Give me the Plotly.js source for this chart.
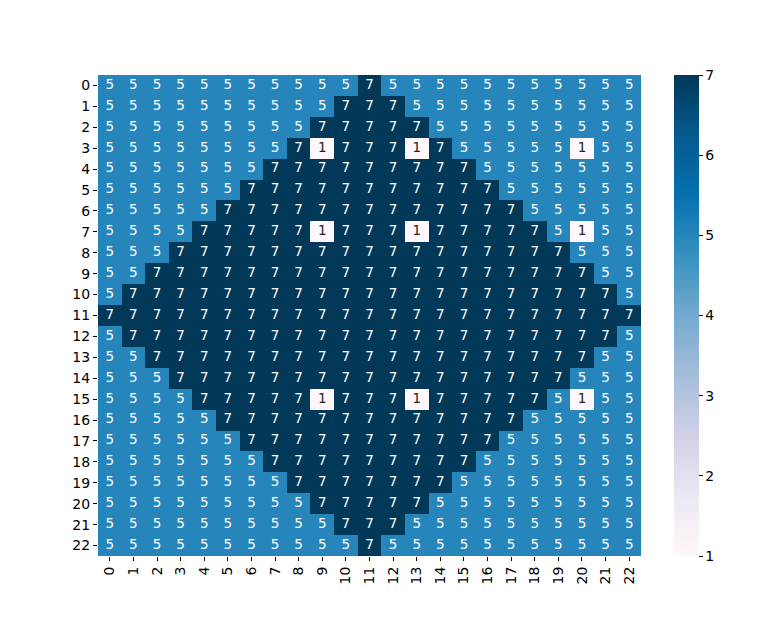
<!DOCTYPE html>
<html>
<head>
<meta charset="utf-8">
<script src="https://cdn.plot.ly/plotly-3.0.1.min.js"></script>
<style>html,body{margin:0;padding:0;background:#fff;}#chart{width:780px;height:625px;}</style>
</head>
<body>
<div id="chart"></div>
<script>
const rowLabels = ["0","1","2","3","4","5","6","7","8","9","10","11","12","13","14","15","16","17","18","19","20","21","22"];
const colLabels = ["0","1","2","3","4","5","6","7","8","9","10","11","12","13","14","15","16","17","18","19","20","21","22"];
const values = [
 [5,5,5,5,5,5,5,5,5,5,5,7,5,5,5,5,5,5,5,5,5,5,5],
 [5,5,5,5,5,5,5,5,5,5,7,7,7,5,5,5,5,5,5,5,5,5,5],
 [5,5,5,5,5,5,5,5,5,7,7,7,7,7,5,5,5,5,5,5,5,5,5],
 [5,5,5,5,5,5,5,5,7,1,7,7,7,1,7,5,5,5,5,5,1,5,5],
 [5,5,5,5,5,5,5,7,7,7,7,7,7,7,7,7,5,5,5,5,5,5,5],
 [5,5,5,5,5,5,7,7,7,7,7,7,7,7,7,7,7,5,5,5,5,5,5],
 [5,5,5,5,5,7,7,7,7,7,7,7,7,7,7,7,7,7,5,5,5,5,5],
 [5,5,5,5,7,7,7,7,7,1,7,7,7,1,7,7,7,7,7,5,1,5,5],
 [5,5,5,7,7,7,7,7,7,7,7,7,7,7,7,7,7,7,7,7,5,5,5],
 [5,5,7,7,7,7,7,7,7,7,7,7,7,7,7,7,7,7,7,7,7,5,5],
 [5,7,7,7,7,7,7,7,7,7,7,7,7,7,7,7,7,7,7,7,7,7,5],
 [7,7,7,7,7,7,7,7,7,7,7,7,7,7,7,7,7,7,7,7,7,7,7],
 [5,7,7,7,7,7,7,7,7,7,7,7,7,7,7,7,7,7,7,7,7,7,5],
 [5,5,7,7,7,7,7,7,7,7,7,7,7,7,7,7,7,7,7,7,7,5,5],
 [5,5,5,7,7,7,7,7,7,7,7,7,7,7,7,7,7,7,7,7,5,5,5],
 [5,5,5,5,7,7,7,7,7,1,7,7,7,1,7,7,7,7,7,5,1,5,5],
 [5,5,5,5,5,7,7,7,7,7,7,7,7,7,7,7,7,7,5,5,5,5,5],
 [5,5,5,5,5,5,7,7,7,7,7,7,7,7,7,7,7,5,5,5,5,5,5],
 [5,5,5,5,5,5,5,7,7,7,7,7,7,7,7,7,5,5,5,5,5,5,5],
 [5,5,5,5,5,5,5,5,7,7,7,7,7,7,7,5,5,5,5,5,5,5,5],
 [5,5,5,5,5,5,5,5,5,7,7,7,7,7,5,5,5,5,5,5,5,5,5],
 [5,5,5,5,5,5,5,5,5,5,7,7,7,5,5,5,5,5,5,5,5,5,5],
 [5,5,5,5,5,5,5,5,5,5,5,7,5,5,5,5,5,5,5,5,5,5,5]
];
const colorbarTicks = [1,2,3,4,5,6,7];

const pubu = ["#fff7fb","#ece7f2","#d0d1e6","#a6bddb","#74a9cf","#3690c0","#0570b0","#045a8d","#023858"];
const colorscale = pubu.map((c,i)=>[i/(pubu.length-1), c]);

const xIdx = colLabels.map((_,i)=>i);
const yIdx = rowLabels.map((_,i)=>i);

const tx=[], ty=[], tt=[], tc=[];
values.forEach((row,r)=>row.forEach((v,c)=>{
  tx.push(c); ty.push(r); tt.push(String(v)); tc.push(v < 3 ? "#262626" : "#ffffff");
}));

const font = {family:"DejaVu Sans, sans-serif", size:14, color:"#000"};

const data = [
 {
  type:"heatmap", z: values, x: xIdx, y: yIdx,
  zmin:1, zmax:7, colorscale: colorscale, xgap:0, ygap:0,
  hoverinfo:"skip",
  colorbar:{
    x:1.0608, xanchor:"left", xref:"paper", y:0.5, yanchor:"middle",
    len:1, lenmode:"fraction", thickness:25, thicknessmode:"pixels",
    outlinewidth:0, ticks:"outside", ticklen:4, tickwidth:1, tickcolor:"#000",
    tickvals: colorbarTicks, ticktext: colorbarTicks.map(String),
    tickfont: font, xpad:0, ypad:0
  }
 },
 {
  type:"scatter", mode:"text", x: tx, y: ty, text: tt,
  textfont:{family:"DejaVu Sans, sans-serif", size:13.5, color: tc},
  textposition:"middle center", hoverinfo:"skip", showlegend:false
 }
];

const layout = {
  width:780, height:625,
  margin:{l:98, r:139, t:75, b:69},
  paper_bgcolor:"#fff", plot_bgcolor:"#fff",
  showlegend:false,
  font: font,
  xaxis:{
    range:[-0.5, 22.5], tickvals: xIdx, ticktext: colLabels,
    tickangle:-90, ticks:"outside", ticklen:4, tickwidth:1, tickcolor:"#000",
    showgrid:false, zeroline:false, showline:false, tickfont: font, fixedrange:true
  },
  yaxis:{
    range:[22.5, -0.5], tickvals: yIdx, ticktext: rowLabels,
    ticks:"outside", ticklen:4, tickwidth:1, tickcolor:"#000",
    showgrid:false, zeroline:false, showline:false, tickfont: font, fixedrange:true
  }
};

Plotly.newPlot("chart", data, layout, {displayModeBar:false, staticPlot:true});
</script>
</body>
</html>
